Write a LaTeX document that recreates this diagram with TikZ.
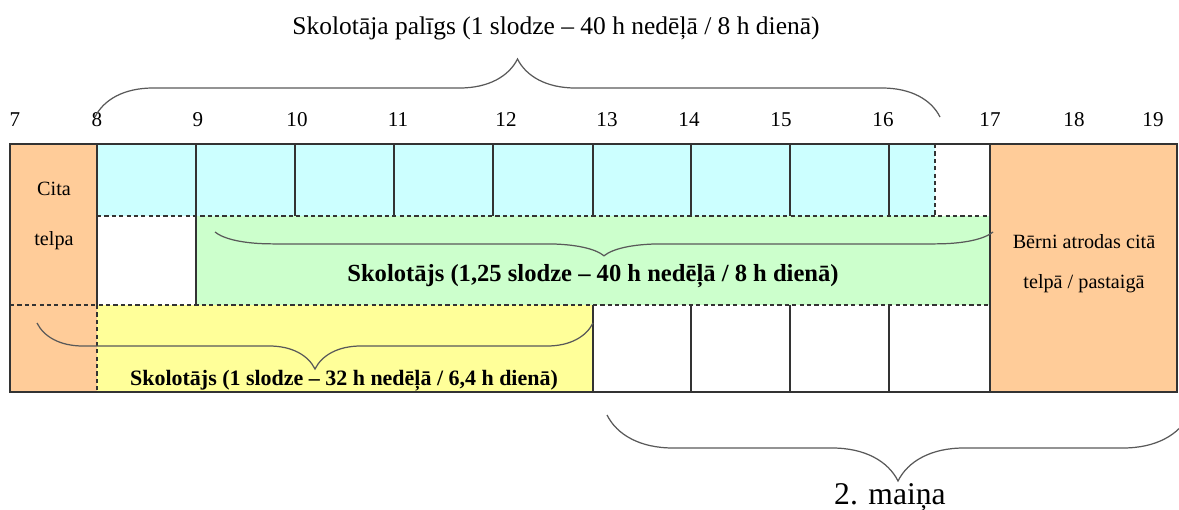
\documentclass[tikz,border=0pt]{standalone}
\usepackage{fontspec}
\setmainfont{Liberation Serif}
\usetikzlibrary{positioning,decorations.pathreplacing}
\definecolor{roomfill}{HTML}{FFCC99}
\definecolor{helperfill}{HTML}{CCFFFF}
\definecolor{fullfill}{HTML}{CCFFCC}
\definecolor{partfill}{HTML}{FFFF99}

\begin{document}
\begin{tikzpicture}[
x=0.02cm, y=-0.02cm,
cellline/.style={
  draw=black!80,
  line width=0.6pt
  },
dashedline/.style={
  draw=black!80,
  line width=0.6pt,
  dash pattern=on 2.4pt off 1.8pt
  },
curly/.style={
  decorate,
  decoration={brace, amplitude=#1},
  draw=black!65,
  line width=0.7pt
  },
hour/.style={font=\fontsize{12}{14}\selectfont},
caption/.style={font=\fontsize{14.5}{17}\selectfont},
boldcaption/.style={font=\bfseries\fontsize{#1}{17}\selectfont},
roomtext/.style={align=center, inner sep=0pt}
]
\useasboundingbox (0,0) rectangle (1179,510);
\clip (0,0) rectangle (1179,510);

% fills
\fill[roomfill] (10,144) rectangle (97,392);
\fill[roomfill] (990,144) rectangle (1177,392);
\fill[helperfill] (97,144) rectangle (935,216);
\fill[fullfill] (196,216) rectangle (990,305);
\fill[partfill] (97,305) rectangle (593,392);

% grid
\draw[cellline] (10,144) rectangle (1177,392);
\foreach \cx in {97,196}
  \draw[cellline] (\cx,144) -- (\cx,305);
\foreach \cx in {295,394,493}
  \draw[cellline] (\cx,144) -- (\cx,216);
\foreach \cx in {593,691,790,889}
{\draw[cellline] (\cx,144) -- (\cx,216);
 \draw[cellline] (\cx,305) -- (\cx,392);
}
\draw[cellline] (990,144) -- (990,392);
\draw[dashedline] (935,144) -- (935,216);
\draw[dashedline] (97,216) -- (990,216);
\draw[dashedline] (10,305) -- (990,305);
\draw[dashedline] (97,305) -- (97,392);

% hours
\foreach \hx/\hh in {15/7,97/8,198/9,297/10,398/11,506/12,607/13,689/14,781/15,883/16,990/17,1074/18,1153/19}
  \node[hour] (h\hh) at (\hx,120) {\hh};

% rooms
\node[roomtext, font=\fontsize{11.5}{28.5}\selectfont] (cita) at (54,216) {Cita\\telpa};
\node[roomtext, font=\fontsize{11.5}{22.8}\selectfont] (walk) at (1084,264) {Bērni atrodas citā\\telpā / pastaigā};

% braces
\coordinate (palL) at (95,117);
\coordinate (palR) at (940,117);
\draw[curly=1.16cm] (palL) -- (palR);
\node[caption] (pal) at (556,28) {Skolotāja palīgs (1 slodze – 40 h nedēļā / 8 h dienā)};

\coordinate (fullL) at (215,232);
\coordinate (fullR) at (993,232);
\draw[curly=1.16cm, decoration={transform={yscale=0.41}}] (fullR) -- (fullL);
\node[boldcaption=14] (full) at (593,276) {Skolotājs (1,25 slodze – 40 h nedēļā / 8 h dienā)};

\coordinate (partL) at (37,323);
\coordinate (partR) at (593,323);
\draw[curly=0.92cm] (partR) -- (partL);
\node[boldcaption=12.5] (part) at (344,381) {Skolotājs (1 slodze – 32 h nedēļā / 6,4 h dienā)};

\coordinate (shiftL) at (607,415);
\coordinate (shiftR) at (1189,415);
\draw[curly=1.32cm] (shiftR) -- (shiftL);
\node[font=\fontsize{18}{20}\selectfont] (shift) at (890,497) {2. maiņa};
\end{tikzpicture}
\end{document}
